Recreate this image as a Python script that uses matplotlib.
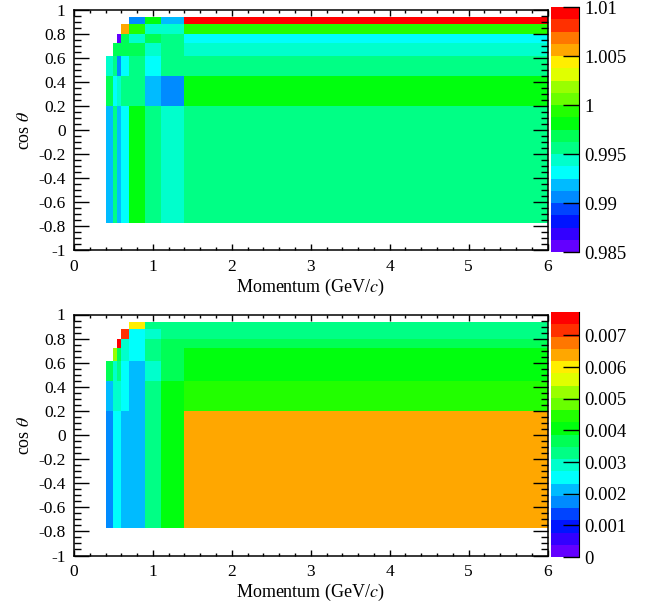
import colorsys
import numpy as np
import matplotlib
matplotlib.use('Agg')
import matplotlib.pyplot as plt
from matplotlib.colors import ListedColormap, BoundaryNorm
from matplotlib.ticker import MultipleLocator, FuncFormatter

plt.rcParams['font.family'] = ['Liberation Serif', 'DejaVu Serif']
plt.rcParams['mathtext.fontset'] = 'stix'

# bin edges
p_edges = [0.4, 0.5, 0.55, 0.6, 0.7, 0.9, 1.1, 1.4, 6.0]
cos_edges = [-0.77, 0.2, 0.45, 0.61, 0.72, 0.80, 0.88, 0.94]

nan = np.nan
# upper panel: correction factor, rows = cos bins (bottom -> top), cols = p bins
ratio = [
    [0.9919, 0.9956, 0.9919, 0.9931, 0.9981, 0.9956, 0.9944, 0.9956],
    [0.9969, 0.9931, 0.9944, 0.9956, 0.9956, 0.9919, 0.9906, 0.9981],
    [0.9944, 0.9956, 0.9906, 0.9931, 0.9956, 0.9931, 0.9956, 0.9956],
    [nan,    0.9969, 0.9969, 0.9969, 0.9969, 0.9944, 0.9956, 0.9944],
    [nan,    nan,    0.9856, 0.9969, 0.9944, 0.9969, 0.9956, 0.9931],
    [nan,    nan,    nan,    1.0056, 0.9994, 0.9944, 0.9944, 0.9994],
    [nan,    nan,    nan,    nan,    0.9906, 0.9981, 0.9919, 1.0094],
]
# lower panel: uncertainty
error = [
    [0.00174, 0.00252, 0.00252, 0.00213, 0.00213, 0.00329, 0.00406, 0.00639],
    [0.00213, 0.00290, 0.00290, 0.00252, 0.00213, 0.00329, 0.00406, 0.00445],
    [0.00368, 0.00290, 0.00329, 0.00252, 0.00213, 0.00290, 0.00368, 0.00406],
    [nan,     0.00523, 0.00368, 0.00290, 0.00252, 0.00329, 0.00368, 0.00406],
    [nan,     nan,     0.00770, 0.00290, 0.00252, 0.00329, 0.00368, 0.00368],
    [nan,     nan,     nan,     0.00716, 0.00252, 0.00290, 0.00329, 0.00329],
    [nan,     nan,     nan,     nan,     0.00600, 0.00329, 0.00329, 0.00329],
]

ratio_range = (0.985, 1.01)
ratio_ticks = [0.985, 0.99, 0.995, 1.0, 1.005, 1.01]
error_range = (0.0, 0.00774)
error_ticks = [0, 0.001, 0.002, 0.003, 0.004, 0.005, 0.006, 0.007]


def root_palette(ncont=20):
    # old ROOT palette 1 (colours 51-100), picked per contour like THistPainter
    pal = []
    for i in range(50):
        hue = 280 - (i + 1) * 280 / 50
        pal.append(colorsys.hls_to_rgb(hue / 360., 0.5, 1.0))
    return [pal[min(int((k + 0.99) * 50 / ncont), 49)] for k in range(ncont)]


cmap = ListedColormap(root_palette(20))
fmt = FuncFormatter(lambda v, pos: '%g' % round(v, 8))

W, H = 645., 605.
fig = plt.figure(figsize=(6.45, 6.05), dpi=100)


def draw(top, cb_top, cb_bot, z, zr, cticks):
    ax = fig.add_axes([74 / W, 1 - (top + 241) / H, 473.5 / W, 241 / H])
    cax = fig.add_axes([551 / W, 1 - cb_bot / H, 28 / W, (cb_bot - cb_top) / H])
    norm = BoundaryNorm(np.linspace(zr[0], zr[1], 21), 20)
    m = ax.pcolormesh(p_edges, cos_edges, np.ma.masked_invalid(np.array(z)),
                      cmap=cmap, norm=norm)
    ax.set_xlim(0, 6)
    ax.set_ylim(-1, 1)
    ax.xaxis.set_major_locator(MultipleLocator(1))
    ax.xaxis.set_minor_locator(MultipleLocator(0.2))
    ax.yaxis.set_major_locator(MultipleLocator(0.2))
    ax.yaxis.set_minor_locator(MultipleLocator(0.05))
    ax.yaxis.set_major_formatter(fmt)
    ax.tick_params(which='both', direction='in', top=True, right=True,
                   labelsize=12.5, width=1)
    ax.tick_params(axis='x', which='major', length=4.5, pad=6)
    ax.tick_params(axis='x', which='minor', length=2.2)
    ax.tick_params(axis='y', which='major', length=11, pad=6)
    ax.tick_params(axis='y', which='minor', length=5)
    for s in ax.spines.values():
        s.set_linewidth(1.1)
    ax.set_xlabel('Momentum (GeV/$c$)', fontsize=13)
    ax.set_ylabel(r'cos $\theta$', fontsize=13)
    ax.xaxis.set_label_coords(0.5, -0.155)
    ax.xaxis.label.set_va('center')
    ax.yaxis.set_label_coords(-0.105, 0.5)
    ax.yaxis.label.set_va('center')

    cb = fig.colorbar(m, cax=cax, ticks=cticks)
    cb.outline.set_visible(False)
    cax.yaxis.set_major_formatter(fmt)
    cax.tick_params(direction='in', length=11.5, width=1, labelsize=13.5, pad=4)
    cax.minorticks_off()
    cax.spines['right'].set_visible(True)
    cax.spines['right'].set_linewidth(0.8)


draw(9.5, 7, 252, ratio, ratio_range, ratio_ticks)
draw(314.5, 312, 557, error, error_range, error_ticks)

fig.savefig('out.png', dpi=100)
